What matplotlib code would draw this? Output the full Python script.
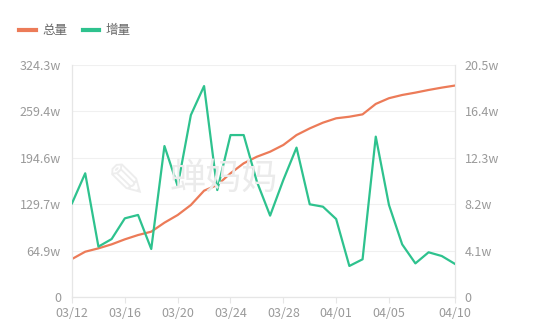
import matplotlib
matplotlib.use("Agg")
import matplotlib.pyplot as plt

plt.rcParams['font.family'] = ['Noto Sans CJK SC', 'DejaVu Sans']

# data (units: w)
dates = ["03/12", "03/13", "03/14", "03/15", "03/16", "03/17", "03/18", "03/19", "03/20", "03/21",
         "03/22", "03/23", "03/24", "03/25", "03/26", "03/27", "03/28", "03/29", "03/30", "03/31",
         "04/01", "04/02", "04/03", "04/04", "04/05", "04/06", "04/07", "04/08", "04/09", "04/10"]
total = [53.1, 63.3, 68.0, 73.6, 80.6, 86.6, 91.3, 103.9, 114.6, 128.6,
         148.6, 156.6, 172.9, 186.9, 196.1, 203.1, 212.5, 226.4, 235.7, 243.7,
         249.8, 252.0, 255.3, 269.9, 277.9, 282.4, 285.7, 289.4, 292.7, 295.6]
delta = [8.28, 10.93, 4.45, 5.12, 6.95, 7.25, 4.24, 13.34, 9.81, 16.08,
         18.64, 9.45, 14.31, 14.31, 10.19, 7.19, 10.34, 13.2, 8.19, 7.98,
         6.89, 2.74, 3.33, 14.17, 8.13, 4.65, 2.97, 3.95, 3.62, 2.92]
left_ticks = [0, 64.86, 129.72, 194.58, 259.44, 324.3]
left_labels = ["0", "64.9w", "129.7w", "194.6w", "259.4w", "324.3w"]
right_ticks = [0, 4.1, 8.2, 12.3, 16.4, 20.5]
right_labels = ["0", "4.1w", "8.2w", "12.3w", "16.4w", "20.5w"]
xtick_idx = [0, 4, 8, 12, 16, 20, 24, 29]

orange = "#EC7B58"
green = "#2EC28E"
grey = "#9A9A9A"

fig = plt.figure(figsize=(5.48, 3.29), dpi=100)
ax = fig.add_axes([0.1314, 0.0973, 0.6989, 0.7051])
ax2 = ax.twinx()

x = list(range(len(dates)))
l1, = ax.plot(x, total, color=orange, lw=1.6, label="总量", zorder=3)
l2, = ax2.plot(x, delta, color=green, lw=1.6, label="增量", zorder=3)

ax.set_xlim(0, len(dates) - 1)
ax.set_ylim(0, 324.3)
ax2.set_ylim(0, 20.5)
ax.set_yticks(left_ticks)
ax.set_yticklabels(left_labels)
ax2.set_yticks(right_ticks)
ax2.set_yticklabels(right_labels)
ax.set_xticks(xtick_idx)
ax.set_xticklabels([dates[i] for i in xtick_idx])

ax.grid(axis="y", color="#F0F0F0", lw=0.8)
ax.set_axisbelow(True)
for a in (ax, ax2):
    for s in a.spines.values():
        s.set_color("#E6E6E6")
        s.set_linewidth(0.8)
    a.spines["top"].set_visible(False)
ax.tick_params(axis="y", length=0, labelsize=9, labelcolor=grey, pad=8)
ax2.tick_params(axis="y", length=0, labelsize=9, labelcolor=grey, pad=7)
ax.tick_params(axis="x", length=4, color="#E6E6E6", labelsize=9, labelcolor=grey, pad=3)

# watermark
fig.text(0.31, 0.455, "蝉妈妈", fontsize=26, color="#EBEBEB",
         va="center", ha="left", zorder=0)
fig.text(0.195, 0.44, "✎", fontsize=34, color="#EDEDED", va="center", ha="left",
         family=["DejaVu Sans"], zorder=0)

fig.legend([l1, l2], ["总量", "增量"], loc="upper left", bbox_to_anchor=(0.015, 0.96),
           ncol=2, frameon=False, fontsize=9, handlelength=1.3, handletextpad=0.5,
           columnspacing=1.3, labelcolor="#666666")
for h in fig.legends[0].get_lines():
    h.set_linewidth(3)

fig.savefig("out.png", dpi=100)
